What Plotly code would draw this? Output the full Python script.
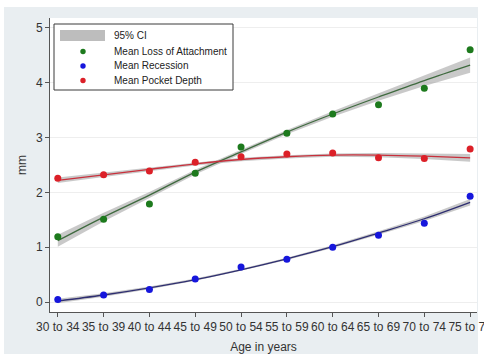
import plotly.graph_objects as go

# ---- data -------------------------------------------------------------
age_groups = ["30 to 34", "35 to 39", "40 to 44", "45 to 49", "50 to 54",
              "55 to 59", "60 to 64", "65 to 69", "70 to 74", "75 to 79"]
y_ticks = [0, 1, 2, 3, 4, 5]

# observed group means (mm)
loss_of_attachment = [1.19, 1.51, 1.79, 2.35, 2.83, 3.08, 3.43, 3.60, 3.90, 4.60]
recession = [0.05, 0.13, 0.23, 0.42, 0.64, 0.78, 1.00, 1.22, 1.44, 1.93]
pocket_depth = [2.26, 2.32, 2.39, 2.55, 2.65, 2.70, 2.72, 2.63, 2.62, 2.79]

# quadratic fitted values per age group
loa_fit = [1.12, 1.55, 1.95, 2.37, 2.74, 3.10, 3.43, 3.74, 4.04, 4.32]
rec_fit = [0.02, 0.13, 0.26, 0.41, 0.59, 0.79, 1.01, 1.26, 1.52, 1.82]
pd_fit = [2.22, 2.32, 2.42, 2.52, 2.60, 2.65, 2.68, 2.68, 2.66, 2.63]

# half-widths of the 95% confidence intervals around the fits
loa_ci = [0.11, 0.08, 0.06, 0.045, 0.04, 0.04, 0.05, 0.07, 0.10, 0.14]
rec_ci = [0.04, 0.03, 0.025, 0.02, 0.02, 0.02, 0.025, 0.03, 0.04, 0.06]
pd_ci = [0.05, 0.04, 0.03, 0.03, 0.03, 0.03, 0.03, 0.04, 0.05, 0.07]

series = [
    ("Mean Loss of Attachment", loss_of_attachment, loa_fit, loa_ci, "#1d7a1d", "#3f6a3f"),
    ("Mean Recession", recession, rec_fit, rec_ci, "#1616dc", "#2e2e70"),
    ("Mean Pocket Depth", pocket_depth, pd_fit, pd_ci, "#dc2028", "#c8303c"),
]

# ---- geometry helpers (pixel -> paper coords) -------------------------
W, H = 484, 354
ML, MR, MT, MB = 50, 7, 18, 42
PW, PH = W - ML - MR, H - MT - MB


def px(xp):
    return (xp - ML) / PW


def py(yp):
    return (H - MB - yp) / PH


x_idx = list(range(len(age_groups)))

fig = go.Figure()

# confidence bands
for name, vals, fit, ci, mcol, lcol in series:
    hi = [f + c for f, c in zip(fit, ci)]
    lo = [f - c for f, c in zip(fit, ci)]
    fig.add_trace(go.Scatter(
        x=x_idx + x_idx[::-1], y=hi + lo[::-1],
        fill="toself", fillcolor="rgba(165,165,165,0.6)",
        line=dict(width=0), mode="lines",
        hoverinfo="skip", showlegend=False))

# fitted curves
for name, vals, fit, ci, mcol, lcol in series:
    fig.add_trace(go.Scatter(x=x_idx, y=fit, mode="lines",
                             line=dict(color=lcol, width=1.3, shape="spline"),
                             hoverinfo="skip", showlegend=False))

# observed means
for name, vals, fit, ci, mcol, lcol in series:
    fig.add_trace(go.Scatter(x=x_idx, y=vals, mode="markers", name=name,
                             marker=dict(color=mcol, size=7), showlegend=False))

# ---- background framing -----------------------------------------------
shapes = [
    dict(type="rect", xref="paper", yref="paper", layer="below",
         x0=px(0), x1=px(W), y0=py(0), y1=py(7),
         fillcolor="white", line=dict(width=0)),
    dict(type="rect", xref="paper", yref="paper", layer="below",
         x0=px(0), x1=px(4), y0=py(H), y1=py(0),
         fillcolor="white", line=dict(width=0)),
    dict(type="rect", xref="paper", yref="paper", layer="below",
         x0=px(478), x1=px(W), y0=py(H), y1=py(0),
         fillcolor="white", line=dict(width=0)),
]

# ---- legend box -------------------------------------------------------
legend_font = dict(family="Liberation Sans, Arial, sans-serif", size=10, color="#222")
shapes.append(dict(type="rect", xref="paper", yref="paper", layer="above",
                   x0=px(54), x1=px(233), y0=py(90), y1=py(24),
                   fillcolor="white", line=dict(color="#3a3a3a", width=1)))
shapes.append(dict(type="rect", xref="paper", yref="paper", layer="above",
                   x0=px(60), x1=px(105), y0=py(41), y1=py(30),
                   fillcolor="#bdbdbd", line=dict(width=0)))
annotations = [dict(text="95% CI", xref="paper", yref="paper",
                    x=px(112), y=py(35.5), xanchor="left", yanchor="middle",
                    showarrow=False, font=legend_font)]
rows_y = [51.5, 66, 80.5]
for (name, vals, fit, ci, mcol, lcol), ry in zip(series, rows_y):
    r = 2.7
    shapes.append(dict(type="circle", xref="paper", yref="paper", layer="above",
                       x0=px(83 - r), x1=px(83 + r), y0=py(ry + r), y1=py(ry - r),
                       fillcolor=mcol, line=dict(width=0)))
    annotations.append(dict(text=name, xref="paper", yref="paper",
                            x=px(112), y=py(ry), xanchor="left", yanchor="middle",
                            showarrow=False, font=legend_font))

axis_font = dict(family="Liberation Sans, Arial, sans-serif", size=12, color="#333")

fig.update_layout(
    width=W, height=H,
    margin=dict(l=ML, r=MR, t=MT, b=MB),
    paper_bgcolor="#e9eef1",
    plot_bgcolor="white",
    showlegend=False,
    shapes=shapes,
    annotations=annotations,
    font=axis_font,
    xaxis=dict(
        range=[-0.17, 9.15],
        tickvals=x_idx, ticktext=age_groups, tickangle=0,
        ticklabeloverflow="allow", automargin=False,
        showgrid=False, zeroline=False,
        showline=True, linecolor="#555", linewidth=1,
        ticks="outside", ticklen=4, tickcolor="#555",
        tickfont=axis_font,
        title=dict(text="Age in years", font=axis_font, standoff=9),
    ),
    yaxis=dict(
        range=[-0.18, 5.18],
        tickvals=y_ticks, automargin=False,
        showgrid=True, gridcolor="#eeeeee", gridwidth=1,
        zeroline=False,
        showline=True, linecolor="#555", linewidth=1,
        ticks="outside", ticklen=4, tickcolor="#555",
        tickfont=axis_font,
        title=dict(text="mm", font=axis_font, standoff=6),
    ),
)

fig.write_html("out.html")
